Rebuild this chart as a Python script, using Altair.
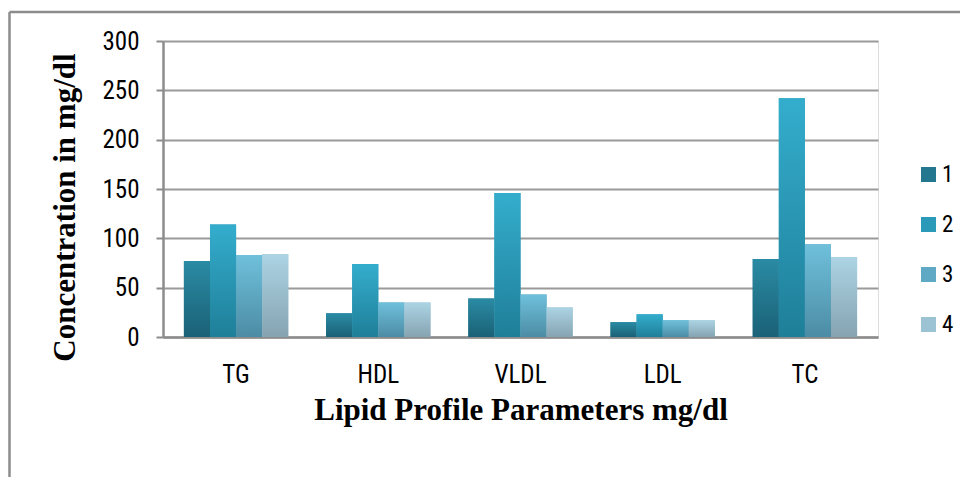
import altair as alt
import pandas as pd

categories = ["TG", "HDL", "VLDL", "LDL", "TC"]
series = ["1", "2", "3", "4"]
values_1 = [77, 24, 39, 15, 79]
values_2 = [114, 74, 146, 23, 242]
values_3 = [83, 35, 43, 17, 94]
values_4 = [84, 35, 30, 17, 81]
y_ticks = [0, 50, 100, 150, 200, 250, 300]

rows = []
for s, vals in zip(series, [values_1, values_2, values_3, values_4]):
    for c, v in zip(categories, vals):
        rows.append({"param": c, "series": s, "value": v})
df = pd.DataFrame(rows)

solid = ["#23778f", "#2b9ab8", "#5fa9c4", "#9cc3d3"]
grad_stops = [
    ("#2a8ba4", "#1a6176"),
    ("#34adcd", "#1f7f99"),
    ("#6fc0dc", "#4c8ca4"),
    ("#acd4e4", "#86a3b1"),
]


def grad(top, bottom):
    return alt.Gradient(
        gradient="linear",
        x1=0, x2=0, y1=0, y2=1,
        stops=[alt.GradientStop(offset=0, color=top),
               alt.GradientStop(offset=1, color=bottom)],
    )


LABEL_FONT = "Liberation Sans Narrow, Arial Narrow, Roboto Condensed, sans-serif"
TITLE_FONT = "Liberation Serif, Times New Roman, serif"

x_enc = alt.X(
    "param:N",
    sort=categories,
    scale=alt.Scale(paddingInner=0.266, paddingOuter=0.147),
    axis=alt.Axis(
        title="Lipid Profile Parameters mg/dl",
        titleFont=TITLE_FONT, titleFontSize=31, titleFontWeight="bold",
        titleColor="#000000", titleBaseline="alphabetic", titleY=82,
        labelFont=LABEL_FONT, labelFontSize=25, labelColor="#000000",
        labelFontWeight="normal",
        labelPadding=25, labelAngle=0, ticks=False,
        domainColor="#8c8c8c", domainWidth=2.5,
    ),
)
xoff_enc = alt.XOffset("series:N", sort=series, scale=alt.Scale(domain=series, paddingInner=0, paddingOuter=0))
y_enc = alt.Y(
    "value:Q",
    scale=alt.Scale(domain=[0, 300], nice=False),
    axis=alt.Axis(
        values=y_ticks,
        title="Concentration in mg/dl",
        titleFont=TITLE_FONT, titleFontSize=31, titleFontWeight="bold",
        titleColor="#000000", titleAngle=-90, titleBaseline="alphabetic",
        titleX=-89, titleY=166, titleAlign="center",
        labelFont=LABEL_FONT, labelFontSize=25, labelColor="#000000",
        labelFontWeight="normal",
        labelPadding=17, tickSize=7, tickColor="#8c8c8c", tickWidth=2,
        domainColor="#8c8c8c", domainWidth=2.5,
        grid=True, gridColor="#9a9a9a", gridWidth=2,
    ),
)

base = alt.Chart(df)

legend_layer = base.mark_bar().encode(
    x=x_enc,
    xOffset=xoff_enc,
    y=y_enc,
    color=alt.Color(
        "series:N",
        sort=series,
        scale=alt.Scale(domain=series, range=solid),
        legend=alt.Legend(
            title=None, orient="none", legendX=754, legendY=122,
            padding=0, offset=0,
            symbolType="square", symbolSize=225, symbolStrokeWidth=0,
            labelFont=LABEL_FONT, labelFontSize=23, labelColor="#000000",
            rowPadding=26, labelOffset=2,
        ),
    ),
)

fill_cond = (
    alt.when(alt.datum.series == "1").then(alt.value(grad(*grad_stops[0])))
    .when(alt.datum.series == "2").then(alt.value(grad(*grad_stops[1])))
    .when(alt.datum.series == "3").then(alt.value(grad(*grad_stops[2])))
    .otherwise(alt.value(grad(*grad_stops[3])))
)

grad_layer = base.mark_bar().encode(
    x=alt.X("param:N", sort=categories),
    xOffset=alt.XOffset("series:N", sort=series),
    y=alt.Y("value:Q"),
    fill=fill_cond,
)

frame_top = alt.Chart(pd.DataFrame({"k": [0]})).mark_rule(color="#8c8c8c", strokeWidth=2.5).encode(
    x=alt.value(-153.5), x2=alt.value(2000), y=alt.value(-29)
)
frame_left = alt.Chart(pd.DataFrame({"k": [0]})).mark_rule(color="#8c8c8c", strokeWidth=2.5).encode(
    x=alt.value(-153.5), y=alt.value(-29), y2=alt.value(2000)
)

chart = alt.layer(legend_layer, grad_layer, frame_top, frame_left).properties(
    width=715,
    height=296,
    autosize=alt.AutoSizeParams(type="none"),
    padding={"left": 155, "top": 33, "right": 82, "bottom": 140},
).configure_view(stroke=None).configure(background="#ffffff")

chart.save("out.html", embed_options={"renderer": "svg", "actions": False})
